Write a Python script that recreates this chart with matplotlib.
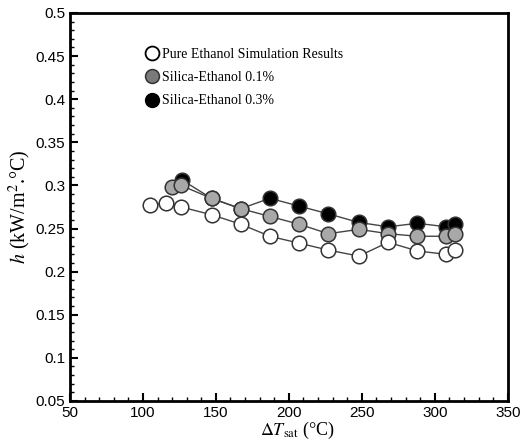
import numpy as np
import matplotlib.pyplot as plt
from matplotlib.lines import Line2D
from matplotlib.ticker import MultipleLocator

plt.rcParams['mathtext.fontset'] = 'stix'

# wall superheat (C) and heat transfer coefficient (kW/m2.C)
dt_pure = [105, 116, 126, 147, 167, 187, 207, 227, 248, 268, 288, 308, 314]
h_pure = [0.277, 0.280, 0.275, 0.266, 0.255, 0.241, 0.233, 0.225, 0.218, 0.234, 0.224, 0.220, 0.225]

dt_01 = [120, 126, 147, 167, 187, 207, 227, 248, 268, 288, 308, 314]
h_01 = [0.298, 0.300, 0.285, 0.273, 0.264, 0.255, 0.244, 0.249, 0.244, 0.241, 0.241, 0.244]

dt_03 = [127, 147, 167, 187, 207, 227, 248, 268, 288, 308, 314]
h_03 = [0.306, 0.285, 0.273, 0.285, 0.276, 0.267, 0.257, 0.252, 0.256, 0.252, 0.255]

labels = ['Pure Ethanol Simulation Results', 'Silica-Ethanol 0.1%', 'Silica-Ethanol 0.3%']

fig = plt.figure(figsize=(5.3, 4.46), dpi=100)
ax = fig.add_axes([0.132, 0.101, 0.826, 0.87])

mk = dict(marker='o', markersize=10.5, markeredgecolor='#333333', markeredgewidth=1.1,
          color='#444444', linewidth=1.0)
ax.plot(dt_03, h_03, markerfacecolor='black', zorder=2, **mk)
ax.plot(dt_01, h_01, markerfacecolor='#a8a8a8', zorder=3, **mk)
ax.plot(dt_pure, h_pure, markerfacecolor='white', zorder=4, **mk)

ax.set_xlim(50, 350)
ax.set_ylim(0.05, 0.5)
ax.xaxis.set_major_locator(MultipleLocator(50))
ax.xaxis.set_minor_locator(MultipleLocator(10))
ax.yaxis.set_minor_locator(MultipleLocator(0.01))
ax.set_yticks(np.arange(0.05, 0.501, 0.05))
ax.set_yticklabels(['0.05', '0.1', '0.15', '0.2', '0.25', '0.3', '0.35', '0.4', '0.45', '0.5'])
ax.tick_params(which='both', direction='in', top=False, right=False,
               labelsize=11, width=1.5)
ax.tick_params(which='major', length=6)
ax.tick_params(which='minor', length=3, width=1)
for lab in ax.get_xticklabels() + ax.get_yticklabels():
    lab.set_family('Liberation Sans')
for s in ax.spines.values():
    s.set_linewidth(2)

ax.set_xlabel(r'$\Delta T_{\rm sat}$ (°C)', family='Liberation Serif', fontsize=13, labelpad=1)
ax.xaxis.set_label_coords(0.52, -0.05, transform=ax.transAxes)
ax.xaxis.label.set_va('top')
ax.set_ylabel(r'$h$ (kW/m$^{2}$.°C)', family='Liberation Serif', fontsize=14.5, labelpad=2)

handles = [
    Line2D([], [], linestyle='none', marker='o', markersize=10, markerfacecolor='white',
           markeredgecolor='black', markeredgewidth=1.3),
    Line2D([], [], linestyle='none', marker='o', markersize=10, markerfacecolor='#7a7a7a',
           markeredgecolor='#333333', markeredgewidth=1.1),
    Line2D([], [], linestyle='none', marker='o', markersize=10, markerfacecolor='black',
           markeredgecolor='black'),
]
ax.legend(handles, labels, loc='upper left', bbox_to_anchor=(0.163, 0.925), frameon=False,
          prop={'family': 'Liberation Serif', 'size': 10}, handlelength=0.8,
          handletextpad=0.3, labelspacing=0.75, borderaxespad=0)

fig.savefig('out.png', dpi=100)
